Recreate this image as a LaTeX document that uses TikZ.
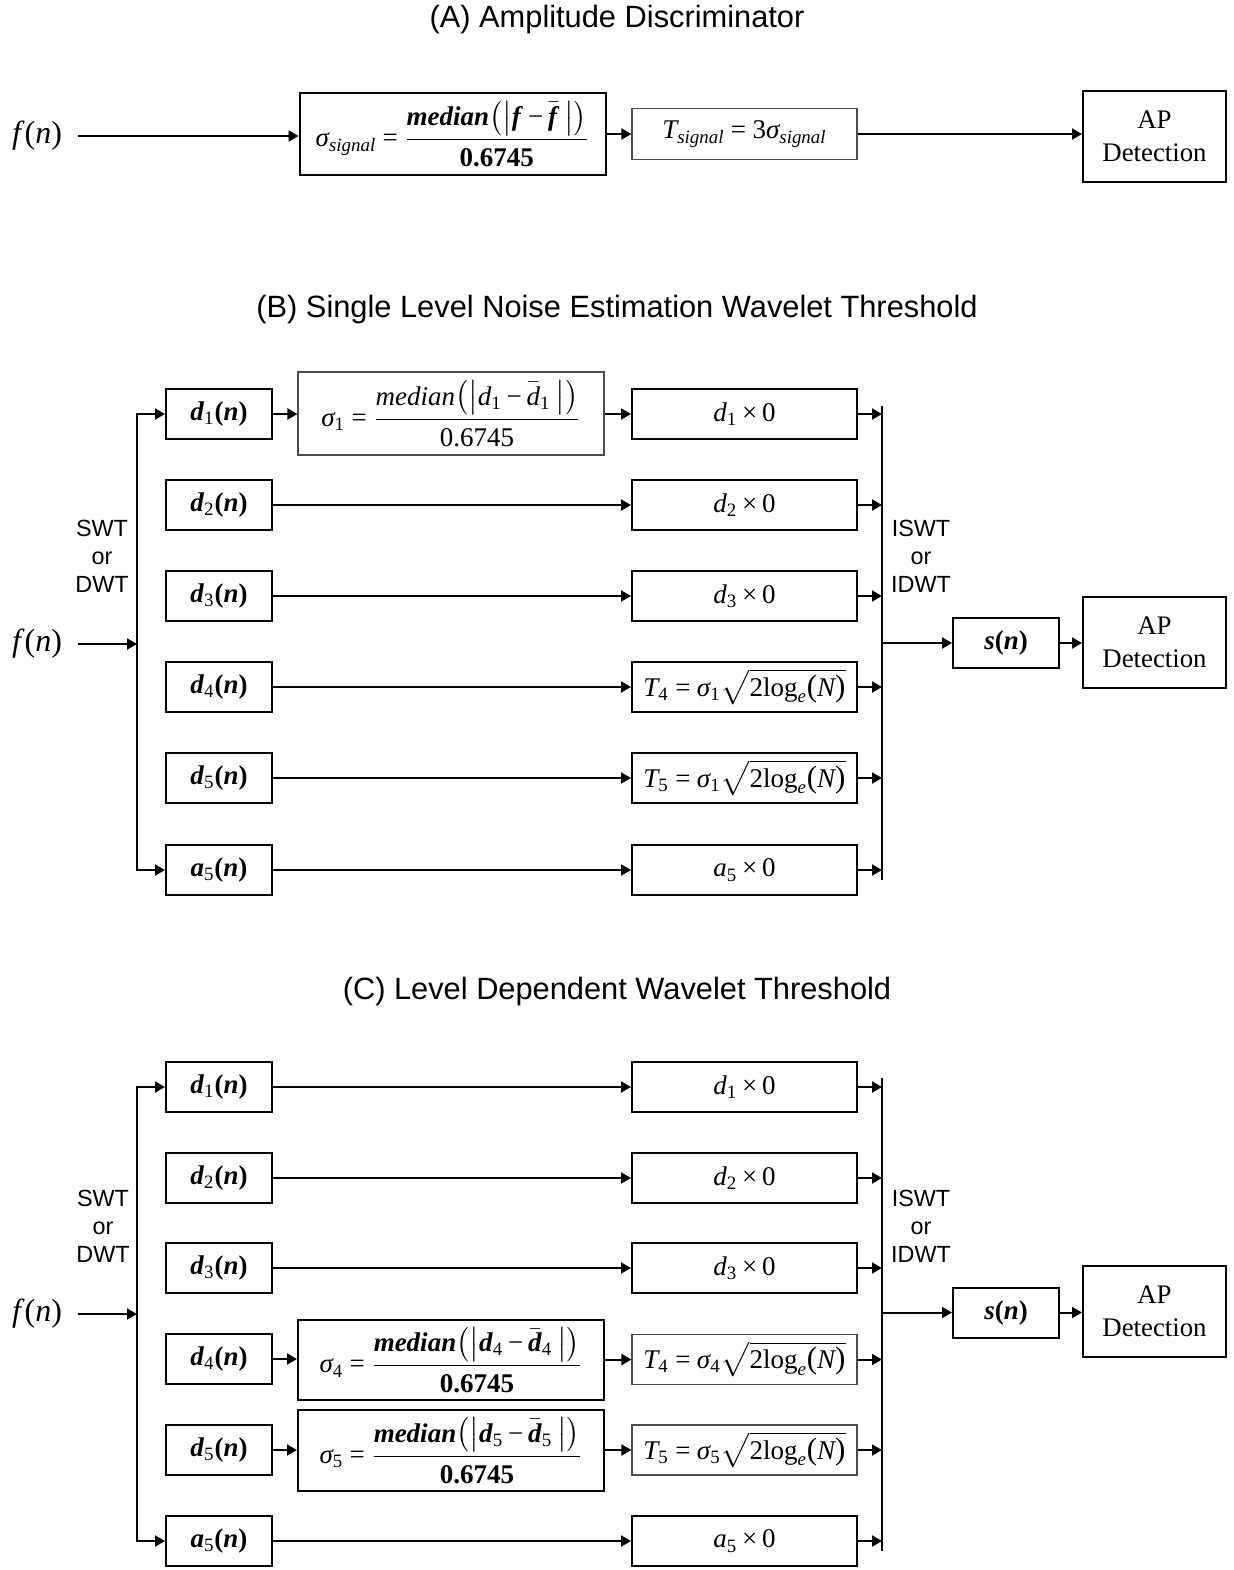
\documentclass[tikz,border=0pt]{standalone}
\usepackage{amsmath}
\usepackage{fontspec}
\setmainfont{Liberation Serif}
\setsansfont{Liberation Sans}
\usetikzlibrary{arrows.meta}
\newcommand{\mysz}{\fontsize{13.5}{16}\selectfont\thickmuskip=4mu plus 2mu\medmuskip=3mu plus 1mu}
\newcommand{\mybig}{\fontsize{16}{19}\selectfont}
\newcommand{\vi}[1]{\textit{#1}}
\newcommand{\vb}[1]{\textbf{\textit{#1}}}
\newcommand{\tx}[1]{\text{#1}}
\newcommand{\eq}{\mathrel{\text{=}}}
\newcommand{\mn}{\mathbin{\text{−}}}
\newcommand{\tm}{\mathbin{\text{×}}}
\newcommand{\lp}{\text{\fontsize{15.5}{16}\selectfont(}}
\newcommand{\rp}{\text{\fontsize{15.5}{16}\selectfont)}}
\newcommand{\dn}[2]{\textbf{\textit{#1}}\textsubscript{#2}\textbf{(\textit{n})}}
\begin{document}
\begin{tikzpicture}[x=0.5pt,y=-0.5pt,
  box/.style={draw=black, line width=1pt, inner sep=0pt, font=\mysz},
  thinbox/.style={draw=black!70, line width=0.55pt, inner sep=0pt, font=\mysz},
  lbox/.style={minimum width=53pt, minimum height=25pt},
  rbox/.style={minimum width=112.5pt, minimum height=25pt},
  sbox/.style={minimum width=153pt},
  apbox/.style={box, minimum width=71.5pt, minimum height=45.5pt, align=center, font=\fontsize{13.4}{16.5}\selectfont},
  arr/.style={line width=1pt, -{Triangle[length=5pt,width=5.5pt]}},
  darr/.style={line width=1pt, {Triangle[length=5pt,width=5.5pt]}-{Triangle[length=5pt,width=5.5pt]}},
  ln/.style={line width=1pt},
  lab/.style={font=\sffamily\fontsize{11.7}{14}\selectfont, align=center, inner sep=0pt},
  ttl/.style={font=\sffamily\fontsize{15.4}{18}\selectfont, inner sep=0pt},
  fn/.style={font=\mybig, inner sep=0pt}]
\useasboundingbox (0,0) rectangle (1233,1570);

% ---------------- (A) ----------------
\node[ttl] (tA) at (617,20) {(A) Amplitude Discriminator};
\node[fn] (fA) at (37,136) {\textit{f}(\textit{n})};
\node[box, sbox, minimum height=41pt] (sA) at (452.5,134)
  {$\vi{σ}_{\vi{signal}}\eq\dfrac{\vb{median}\bigl(\bigl|\vb{f}\mn\bar{\vb{f}}\,\bigr|\bigr)}{\textbf{0.6745}}$};
\node[thinbox, rbox, minimum height=25.5pt] (tsA) at (744.5,134) {$\vi{T}_{\vi{signal}}\eq\tx{3}\vi{σ}_{\vi{signal}}$};
\node[apbox] (apA) at (1154.5,136) {AP\\Detection};
\draw[arr] ([xshift=8pt]fA.east) -- (sA.west |- fA.east);
\draw[arr] (sA.east |- tsA.west) -- (tsA.west);
\draw[arr] (tsA.east) -- (apA.west |- tsA.east);

% ---------------- (B) ----------------
\node[ttl] (tB) at (617,310) {(B) Single Level Noise Estimation Wavelet Threshold};
\node[fn] (fB) at (37,644) {\textit{f}(\textit{n})};
\node[lab] (swtB) at (102,556) {SWT\\or\\DWT};
\node[lab] (iswtB) at (921,556) {ISWT\\or\\IDWT};

\node[box, lbox] (bL1) at (219,414) {\dn{d}{1}};
\node[box, lbox] (bL2) at (219,505) {\dn{d}{2}};
\node[box, lbox] (bL3) at (219,596) {\dn{d}{3}};
\node[box, lbox] (bL4) at (219,687) {\dn{d}{4}};
\node[box, lbox] (bL5) at (219,778) {\dn{d}{5}};
\node[box, lbox] (bL6) at (219,870) {\dn{a}{5}};

\node[thinbox, sbox, minimum height=41.5pt] (bS1) at (451,413.5)
  {$\vi{σ}_{\tx{1}}\eq\dfrac{\vi{median}\bigl(\bigl|\vi{d}_{\tx{1}}\mn\bar{\vi{d}}_{\tx{1}}\,\bigr|\bigr)}{\tx{0.6745}}$};

\node[box, rbox] (bR1) at (744.5,414) {$\vi{d}_{\tx{1}}\tm\tx{0}$};
\node[box, rbox] (bR2) at (744.5,505) {$\vi{d}_{\tx{2}}\tm\tx{0}$};
\node[box, rbox] (bR3) at (744.5,596) {$\vi{d}_{\tx{3}}\tm\tx{0}$};
\node[box, rbox] (bR4) at (744.5,687) {$\vi{T}_{\tx{4}}\eq\vi{σ}_{\tx{1}}\sqrt{\tx{2log}_{\vi{e}}\lp\vi{N}\rp}$};
\node[box, rbox] (bR5) at (744.5,778) {$\vi{T}_{\tx{5}}\eq\vi{σ}_{\tx{1}}\sqrt{\tx{2log}_{\vi{e}}\lp\vi{N}\rp}$};
\node[box, rbox] (bR6) at (744.5,870) {$\vi{a}_{\tx{5}}\tm\tx{0}$};

\coordinate (bLT) at (137,414);
\coordinate (bLB) at (137,870);
\draw[darr] (bL1.west) -- (bLT) -- (bLB) -- (bL6.west);
\draw[arr] ([xshift=8pt]fB.east) -- (fB.east -| bLT);

\draw[arr] (bL1.east) -- (bS1.west |- bL1.east);
\draw[arr] (bS1.east |- bR1.west) -- (bR1.west);
\foreach \i in {2,...,6} { \draw[arr] (bL\i.east) -- (bR\i.west); }

\coordinate (bRT) at (882,406);
\coordinate (bRB) at (882,880);
\draw[ln] (bRT) -- (bRB);
\foreach \i in {1,...,6} { \draw[arr] (bR\i.east) -- (bR\i.east -| bRT); }

\node[box, lbox] (sB) at (1006,643) {\textbf{\textit{s}(\textit{n})}};
\node[apbox] (apB) at (1154.5,642.5) {AP\\Detection};
\draw[arr] (sB.west -| bRT) -- (sB.west);
\draw[arr] (sB.east) -- (apB.west |- sB.east);

% ---------------- (C) ----------------
\node[ttl] (tC) at (617,992) {(C) Level Dependent Wavelet Threshold};
\node[fn] (fC) at (37,1314) {\textit{f}(\textit{n})};
\node[lab] (swtC) at (103,1226) {SWT\\or\\DWT};
\node[lab] (iswtC) at (921,1226) {ISWT\\or\\IDWT};

\node[box, lbox] (cL1) at (219,1087) {\dn{d}{1}};
\node[box, lbox] (cL2) at (219,1178) {\dn{d}{2}};
\node[box, lbox] (cL3) at (219,1268) {\dn{d}{3}};
\node[box, lbox] (cL4) at (219,1359) {\dn{d}{4}};
\node[box, lbox] (cL5) at (219,1450) {\dn{d}{5}};
\node[box, lbox] (cL6) at (219,1541) {\dn{a}{5}};

\node[box, sbox, minimum height=40pt] (cS4) at (451,1360)
  {$\vi{σ}_{\tx{4}}\eq\dfrac{\vb{median}\bigl(\bigl|\vb{d}_{\tx{4}}\mn\bar{\vb{d}}_{\tx{4}}\,\bigr|\bigr)}{\textbf{0.6745}}$};
\node[box, sbox, minimum height=40.5pt] (cS5) at (451,1450.5)
  {$\vi{σ}_{\tx{5}}\eq\dfrac{\vb{median}\bigl(\bigl|\vb{d}_{\tx{5}}\mn\bar{\vb{d}}_{\tx{5}}\,\bigr|\bigr)}{\textbf{0.6745}}$};

\node[box, rbox] (cR1) at (744.5,1087) {$\vi{d}_{\tx{1}}\tm\tx{0}$};
\node[box, rbox] (cR2) at (744.5,1178) {$\vi{d}_{\tx{2}}\tm\tx{0}$};
\node[box, rbox] (cR3) at (744.5,1268) {$\vi{d}_{\tx{3}}\tm\tx{0}$};
\node[thinbox, rbox] (cR4) at (744.5,1359.5) {$\vi{T}_{\tx{4}}\eq\vi{σ}_{\tx{4}}\sqrt{\tx{2log}_{\vi{e}}\lp\vi{N}\rp}$};
\node[thinbox, rbox] (cR5) at (744.5,1450) {$\vi{T}_{\tx{5}}\eq\vi{σ}_{\tx{5}}\sqrt{\tx{2log}_{\vi{e}}\lp\vi{N}\rp}$};
\node[box, rbox] (cR6) at (744.5,1541) {$\vi{a}_{\tx{5}}\tm\tx{0}$};

\coordinate (cLT) at (137,1087);
\coordinate (cLB) at (137,1541);
\draw[darr] (cL1.west) -- (cLT) -- (cLB) -- (cL6.west);
\draw[arr] ([xshift=8pt]fC.east) -- (fC.east -| cLT);

\draw[arr] (cL4.east) -- (cS4.west |- cL4.east);
\draw[arr] (cS4.east |- cR4.west) -- (cR4.west);
\draw[arr] (cL5.east) -- (cS5.west |- cL5.east);
\draw[arr] (cS5.east |- cR5.west) -- (cR5.west);
\foreach \i in {1,2,3,6} { \draw[arr] (cL\i.east) -- (cR\i.west); }

\coordinate (cRT) at (882,1078);
\coordinate (cRB) at (882,1551);
\draw[ln] (cRT) -- (cRB);
\foreach \i in {1,...,6} { \draw[arr] (cR\i.east) -- (cR\i.east -| cRT); }

\node[box, lbox] (sC) at (1006,1312.5) {\textbf{\textit{s}(\textit{n})}};
\node[apbox] (apC) at (1154.5,1311.5) {AP\\Detection};
\draw[arr] (sC.west -| cRT) -- (sC.west);
\draw[arr] (sC.east) -- (apC.west |- sC.east);
\end{tikzpicture}
\end{document}
